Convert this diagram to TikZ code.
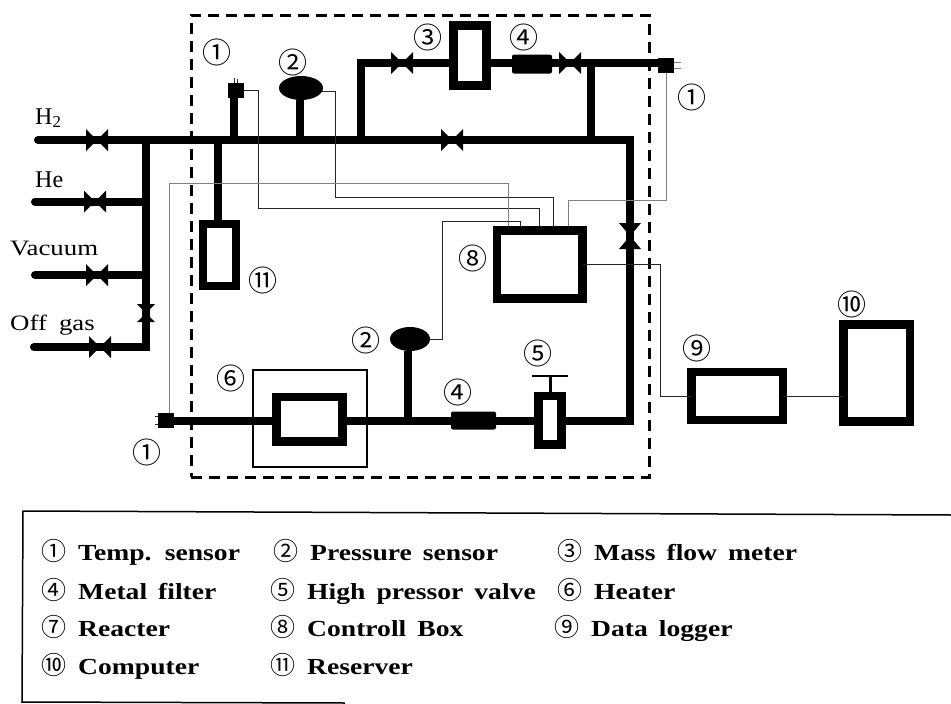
\documentclass[tikz,border=0pt]{standalone}
\usepackage{fontspec}
\setmainfont{Liberation Serif}
\newfontfamily\circf{Noto Sans CJK JP}
\newfontfamily\widef[FakeStretch=1.22,WordSpace=1.8]{Liberation Serif}
\newfontfamily\legf[FakeStretch=1.2,WordSpace=1.6]{Liberation Serif Bold}
\usetikzlibrary{shapes.geometric,calc}
\tikzset{
  pipe/.style={line width=8pt,line join=miter,line cap=butt},
  wire/.style={line width=0.9pt,black!85},
  faint/.style={line width=0.7pt,black!50},
  unit/.style={draw,fill=white,line width=8.5pt,inner sep=0pt,outer sep=0pt},
  filt/.style={fill=black,inner sep=0pt,outer sep=0pt,rounded corners=2pt},
  tsens/.style={fill=black,inner sep=0pt,outer sep=0pt,minimum width=16pt,minimum height=15pt},
  psens/.style={ellipse,fill=black,inner sep=0pt,outer sep=0pt,minimum width=44pt,minimum height=24pt},
  valveh/.style={inner sep=0pt,outer sep=0pt,minimum size=22pt,path picture={
    \fill (path picture bounding box.north west)--(path picture bounding box.center)--(path picture bounding box.south west)--cycle;
    \fill (path picture bounding box.north east)--(path picture bounding box.center)--(path picture bounding box.south east)--cycle;}},
  valvev/.style={inner sep=0pt,outer sep=0pt,minimum width=22pt,minimum height=26pt,path picture={
    \fill (path picture bounding box.north west)--(path picture bounding box.center)--(path picture bounding box.north east)--cycle;
    \fill (path picture bounding box.south west)--(path picture bounding box.center)--(path picture bounding box.south east)--cycle;}},
  num/.style={inner sep=0pt,font=\circf\fontsize{29}{30}\selectfont},
  gas/.style={inner sep=0pt,anchor=base west,font=\fontsize{24}{26}\selectfont},
  gasw/.style={inner sep=0pt,anchor=base west,font=\widef\fontsize{22}{24}\selectfont},
  leg/.style={inner sep=0pt,anchor=base west,font=\legf\fontsize{23}{24}\selectfont},
}
\newcommand{\cn}[1]{\makebox[37pt][l]{\circf\fontsize{25}{24}\selectfont #1}}
\begin{document}
\begin{tikzpicture}[x=1pt,y=-1pt]
\useasboundingbox (0,0) rectangle (951,704);
% dashed enclosure
\node[draw,dash pattern=on 11pt off 7pt,line width=3pt,inner sep=0pt,minimum width=458pt,minimum height=462pt] (zone) at (420,246) {};
% junction coordinates
\coordinate (h2in) at (38,140);
\coordinate (hein) at (35,201.5);
\coordinate (vacin) at (35,275);
\coordinate (offin) at (34,347);
\coordinate (jH2) at (146,140);
\coordinate (jHe) at (146,201.5);
\coordinate (jVac) at (146,275);
\coordinate (jOff) at (146,347);
\coordinate (jRes) at (218,140);
\coordinate (jTs) at (234,140);
\coordinate (jP) at (300,140);
\coordinate (jB) at (361,140);
\coordinate (cB) at (361,63);
\coordinate (jR) at (591,140);
\coordinate (jT) at (591,63);
\coordinate (cR) at (630,140);
\coordinate (cL) at (630,420.5);
\coordinate (jP2) at (408,420.5);
% equipment
\node[valveh] (v1) at (97,140) {};
\node[valveh] (v2) at (95,201.5) {};
\node[valveh] (v3) at (97,275) {};
\node[valveh] (v4) at (100,347) {};
\node[valvev,minimum height=18pt,minimum width=18pt] (v5) at (146,313) {};
\node[valveh] (v6) at (452,140) {};
\node[valveh] (v7) at (402,63) {};
\node[valveh] (v8) at (570,63) {};
\node[valvev] (v9) at (630,236) {};
\node[tsens] (ts1) at (235.5,90) {};
\node[tsens] (ts2) at (666,65) {};
\node[tsens] (ts3) at (166,420.5) {};
\node[psens] (ps1) at (301,88) {};
\node[psens,minimum width=40pt] (ps2) at (410,339) {};
\node[filt,minimum width=40pt,minimum height=19pt] (f1) at (532,64) {};
\node[filt,minimum width=45pt,minimum height=18pt] (f2) at (473.5,420.5) {};
% pipes
\draw[pipe] (h2in) -- (v1.center) -- (jH2) -- (jRes) -- (jTs) -- (jP) -- (jB) -- (v6.center) -- (jR) -- (cR) -- (v9.center) -- (cL) -- (jP2);
\draw[pipe] (hein) -- (v2.center) -- (jHe);
\draw[pipe] (vacin) -- (v3.center) -- (jVac);
\draw[pipe] (offin) -- (v4.center) -- (jOff) -- (v5.center) -- (jH2);
\draw[line width=8pt,line cap=round] (h2in) -- ++(0.1,0) (hein) -- ++(0.1,0) (vacin) -- ++(0.1,0) (offin) -- ++(0.1,0);
\draw[pipe] (jTs) -- (jTs |- ts1.south);
\draw[pipe] (jP) -- (jP |- ps1.south);
\draw[pipe] (ps2.south -| jP2) -- (jP2);
\node[draw,line width=2pt,inner sep=0pt,minimum width=114pt,minimum height=97pt] (heater) at (310,418.5) {};
\node[unit,minimum width=85.5pt,minimum height=68pt] (box8) at (539.75,264.5) {};
\node[unit,minimum width=33pt,minimum height=62pt] (res) at (219.5,255) {};
\node[unit,minimum width=33pt,minimum height=60pt] (mfm) at (470,55.5) {};
\node[unit,minimum width=66pt,minimum height=44.5pt] (reactor) at (309.5,419.25) {};
\node[unit,minimum width=23pt,minimum height=48.5pt] (hpv) at (550,420.25) {};
\node[unit,minimum width=91.5pt,minimum height=48pt] (logger) at (737.25,396) {};
\node[unit,minimum width=66.5pt,minimum height=97pt] (comp) at (876.75,373) {};
\draw[pipe] (jRes) -- (jRes |- res.north);
\draw[pipe] (jB) -- (cB) -- (v7.center) -- (mfm.west |- cB);
\draw[pipe] (mfm.east |- cB) -- (f1.west |- cB);
\draw[pipe] (f1.east |- cB) -- (v8.center) -- (jT) -- (ts2.west |- cB);
\draw[pipe] (jR) -- (jT);
\draw[pipe] (ts3) -- (reactor.west |- ts3);
\draw[pipe] (reactor.east |- ts3) -- (f2);
\draw[pipe] (f2) -- (hpv.west |- f2);
\draw[pipe] (hpv.east |- f2) -- (cL);
\draw[line width=3pt] (hpv.north) -- ++(0,-20) coordinate (stem);
\draw[line width=2.5pt] ($(stem)+(-18,0)$) -- ($(stem)+(18,0)$);
% sensor pins
\draw[wire] (ts1.north) ++(-1,0) -- ++(0,-5) (ts1.north) ++(2,0) -- ++(0,-4);
\draw[faint] (ts2.east) ++(0,-3) -- ++(7,0) (ts2.east) ++(0,3) -- ++(7,0);
\draw[wire] (ts3.west) ++(0,-4) -- ++(-3,0) (ts3.west) ++(0,4) -- ++(-3,0);
% signal wires
\coordinate (c8a) at (508,226);
\coordinate (c8b) at (520,226);
\coordinate (c8c) at (539,226);
\coordinate (c8d) at (553,226);
\coordinate (c8e) at (568,226);
\draw[wire] (ts1.east) -| (258,208) -| (c8c);
\draw[wire] ($(ps1.east)+(-1,3)$) -| (335,197) -| (c8d);
\draw[faint] (ts3.north) ++(3.5,0) |- (508,183) -- (c8a);
\draw[wire] (ps2.east) -| (442,221) -| (c8b);
\draw[faint] (ts2.south) |- (568,200) -- (c8e);
\draw[wire] (box8.east) -| (660,396) -- (logger.west);
\draw[wire] (logger.east) -- (comp.west |- logger.east);
% labels
\node[num] (n1) at (217,52) {①};
\node[num] (n2) at (293,62) {②};
\node[num] (n3) at (428,37) {③};
\node[num] (n4) at (524,37) {④};
\node[num] (n5) at (692,97) {①};
\node[num] (n6) at (263,280) {⑪};
\node[num] (n7) at (473,258) {⑧};
\node[num] (n8) at (366,340) {②};
\node[num] (n9) at (231,378) {⑥};
\node[num] (n10) at (458,392) {④};
\node[num] (n11) at (538,353) {⑤};
\node[num] (n12) at (697,348) {⑨};
\node[num] (n13) at (852,304) {⑩};
\node[num] (n14) at (147,452) {①};
\node[gas] (g1) at (35,124) {H\textsubscript{2}};
\node[gas] (g2) at (35,187) {He};
\node[gasw] (g3) at (10,255) {Vacuum};
\node[gasw] (g4) at (10,330) {Off gas};
% legend
\coordinate (fa) at (951,515);
\coordinate (fb) at (23,511);
\coordinate (fc) at (22,702);
\coordinate (fd) at (345,703);
\draw[line width=1.5pt] (fa) -- (fb) -- (fc) -- (fd);
\node[leg] (l1) at (41,560) {\cn{①}Temp. sensor};
\node[leg] (l2) at (273,560) {\cn{②}Pressure sensor};
\node[leg] (l3) at (557,560) {\cn{③}Mass flow meter};
\node[leg] (l4) at (41,599) {\cn{④}Metal filter};
\node[leg] (l5) at (270,599) {\cn{⑤}High pressor valve};
\node[leg] (l6) at (557,599) {\cn{⑥}Heater};
\node[leg] (l7) at (41,636) {\cn{⑦}Reacter};
\node[leg] (l8) at (270,636) {\cn{⑧}Controll Box};
\node[leg] (l9) at (554,636) {\cn{⑨}Data logger};
\node[leg] (l10) at (41,674) {\cn{⑩}Computer};
\node[leg] (l11) at (270,674) {\cn{⑪}Reserver};
\end{tikzpicture}
\end{document}
